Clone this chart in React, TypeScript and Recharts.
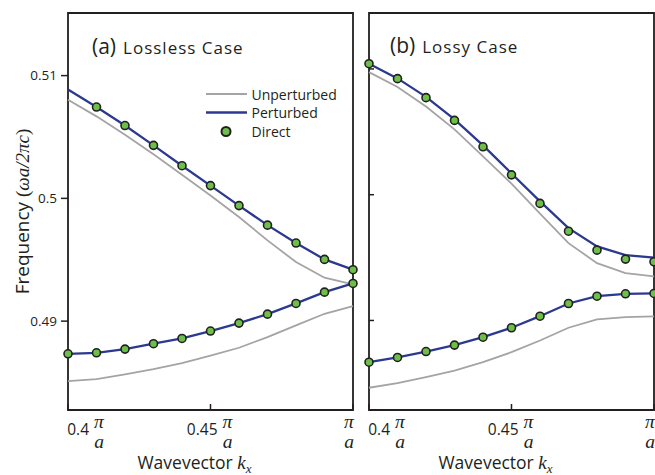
import React from "react";
import { ComposedChart, Line, XAxis, YAxis, ReferenceArea, Legend } from "recharts";

// wavevector samples (units of pi/a)
const kx = [0.4, 0.41, 0.42, 0.43, 0.44, 0.45, 0.46, 0.47, 0.48, 0.49, 0.5];

// (a) lossless case
const losslessUnpertUpper = [0.50804, 0.50668, 0.50519, 0.50359, 0.50193, 0.50024, 0.49848, 0.49658, 0.49481, 0.49354, 0.49299];
const losslessUnpertLower = [0.48511, 0.48527, 0.48566, 0.48609, 0.48658, 0.48718, 0.48783, 0.4887, 0.48965, 0.4906, 0.49122];
const losslessPertUpper = [0.50886, 0.50744, 0.50593, 0.50432, 0.50266, 0.50104, 0.49941, 0.49782, 0.49636, 0.49503, 0.49419];
const losslessPertLower = [0.48734, 0.48742, 0.48772, 0.48816, 0.48859, 0.48919, 0.48984, 0.49057, 0.49144, 0.49236, 0.49307];
const losslessDirectUpper = [null, 0.50744, 0.50593, 0.50432, 0.50266, 0.50104, 0.49941, 0.49782, 0.49636, 0.49503, 0.49419];
const losslessDirectLower = [0.48734, 0.48742, 0.48772, 0.48816, 0.48859, 0.48919, 0.48984, 0.49057, 0.49144, 0.49236, 0.49307];

// (b) lossy case
const lossyUnpertUpper = [0.50975, 0.50856, 0.50702, 0.5052, 0.50305, 0.50088, 0.49849, 0.49615, 0.49456, 0.49376, 0.4935];
const lossyUnpertLower = [0.48465, 0.48501, 0.48549, 0.48602, 0.48668, 0.48748, 0.48841, 0.48942, 0.49008, 0.49026, 0.49032];
const lossyPertUpper = [0.51042, 0.50925, 0.50778, 0.50599, 0.50392, 0.50169, 0.49947, 0.49734, 0.49589, 0.4952, 0.49499];
const lossyPertLower = [0.48668, 0.48706, 0.48753, 0.48804, 0.48867, 0.48942, 0.49034, 0.49135, 0.49193, 0.49212, 0.49215];
const lossyDirectUpper = [0.51042, 0.50923, 0.50772, 0.50591, 0.50381, 0.50158, 0.49931, 0.4971, 0.49559, 0.49488, 0.49467];
const lossyDirectLower = [0.48668, 0.48706, 0.48753, 0.48804, 0.48867, 0.48942, 0.49034, 0.49135, 0.49193, 0.49212, 0.49215];

const losslessDomain = [0.48276, 0.5151];
const lossyDomain = [0.48288, 0.51445];

const xTicks = [0.4, 0.45, 0.5];
const xTickCoefs = ["0.4", "0.45", ""];
const yTicks = [0.49, 0.5, 0.51];
const yTickLabels = ["0.49", "0.5", "0.51"];
const legendNames = ["Unperturbed", "Perturbed", "Direct"];

const BLUE = "#2b3990";
const GRAY = "#a4a4a4";
const GREEN = "#6cc04a";
const INK = "#231f20";
const SANS = '"Open Sans", sans-serif';
const MATH = '"Liberation Serif", serif';

const buildRows = (uu: any[], ul: any[], pu: any[], pl: any[], du: any[], dl: any[]) =>
  kx.map((k, i) => ({ k, uu: uu[i], ul: ul[i], pu: pu[i], pl: pl[i], du: du[i], dl: dl[i] }));

const losslessRows = buildRows(losslessUnpertUpper, losslessUnpertLower, losslessPertUpper, losslessPertLower, losslessDirectUpper, losslessDirectLower);
const lossyRows = buildRows(lossyUnpertUpper, lossyUnpertLower, lossyPertUpper, lossyPertLower, lossyDirectUpper, lossyDirectLower);

const KTick = (props: any) => {
  const { x, y, payload } = props;
  const idx = xTicks.indexOf(payload.value);
  const coef = xTickCoefs[idx] ?? "";
  const px = x + (idx === 0 ? 31 : idx === xTicks.length - 1 ? -4 : 17);
  return (
    <g>
      <line x1={x} x2={x} y1={y} y2={y - 6} stroke={INK} strokeWidth={1.5} />
      <text fill={INK}>
        {coef && (
          <tspan x={px - 10} y={y + 24.5} textAnchor="end" fontFamily={SANS} fontSize={15.5}>
            {coef}
          </tspan>
        )}
        <tspan x={px} y={y + 18} textAnchor="middle" fontFamily={MATH} fontStyle="italic" fontSize={19.5}>
          π
        </tspan>
        <tspan x={px} y={y + 37.5} textAnchor="middle" fontFamily={MATH} fontStyle="italic" fontSize={19.5}>
          a
        </tspan>
      </text>
    </g>
  );
};

const InnerYTick = (props: any) => {
  const { x, y } = props;
  return <line x1={x} x2={x + 5} y1={y} y2={y} stroke={INK} strokeWidth={1.5} />;
};

const FreqLabel = (props: any) => {
  const vb = props.viewBox || { x: 0, y: 13, width: 68, height: 397 };
  const cx = vb.x + 22;
  const cy = vb.y + vb.height / 2;
  return (
    <text
      transform={`translate(${cx},${cy}) rotate(-90)`}
      textAnchor="middle"
      dominantBaseline="central"
      fontFamily={SANS}
      fontSize={19}
      fill={INK}
    >
      Frequency{" "}
      <tspan fontFamily={MATH}>(</tspan>
      <tspan fontFamily={MATH} fontStyle="italic">ωa/2πc</tspan>
      <tspan fontFamily={MATH}>)</tspan>
    </text>
  );
};

const WaveLabel = (props: any) => {
  const vb = props.viewBox || { x: 68, y: 410, width: 285, height: 65 };
  const cx = vb.x + vb.width / 2 - 16;
  return (
    <text x={cx} y={vb.y + 59} textAnchor="middle" fontFamily={SANS} fontSize={17.5} fill={INK}>
      Wavevector{"  "}
      <tspan fontFamily={MATH} fontStyle="italic" fontSize={19}>k</tspan>
      <tspan fontFamily={MATH} fontStyle="italic" fontSize={13} dy={4}>x</tspan>
    </text>
  );
};

const LegendBox = () => (
  <svg width={150} height={60}>
    <line x1={6} x2={47} y1={10} y2={10} stroke={GRAY} strokeWidth={2.2} />
    <line x1={6} x2={47} y1={28.5} y2={28.5} stroke={BLUE} strokeWidth={2.6} />
    <circle cx={26} cy={47.5} r={4.5} fill={GREEN} stroke={INK} strokeWidth={2} />
    {legendNames.map((n, i) => (
      <text key={n} x={51.5} y={10 + i * 18.8} dominantBaseline="central" fontFamily={SANS} fontSize={14} fill={INK}>
        {n}
      </text>
    ))}
  </svg>
);

const dotStyle = { r: 4, fill: GREEN, stroke: INK, strokeWidth: 1.6 };

const Panel = ({ rows, domain, left }: { rows: any[]; domain: number[]; left: boolean }) => (
  <ComposedChart
    width={left ? 362 : 302}
    height={475}
    data={rows}
    margin={{ top: 13, right: left ? 9 : 8, bottom: 0, left: 0 }}
  >
    <XAxis
      dataKey="k"
      type="number"
      domain={[0.4, 0.5]}
      ticks={xTicks}
      interval={0}
      axisLine={false}
      tickLine={false}
      tickSize={0}
      tickMargin={0}
      height={65}
      tick={<KTick />}
      label={<WaveLabel />}
    />
    {left ? (
      <YAxis
        type="number"
        domain={domain}
        allowDataOverflow
        ticks={yTicks}
        interval={0}
        width={68}
        axisLine={false}
        tickSize={7}
        tickMargin={4}
        tickLine={{ stroke: INK, strokeWidth: 1.5 }}
        tickFormatter={(v: number) => yTickLabels[yTicks.indexOf(v)] ?? ""}
        tick={{ fill: INK, fontSize: 13.5, fontFamily: SANS }}
        label={<FreqLabel />}
      />
    ) : (
      <YAxis
        type="number"
        domain={domain}
        allowDataOverflow
        ticks={yTicks}
        interval={0}
        width={9}
        axisLine={false}
        tickLine={false}
        tickSize={0}
        tickMargin={0}
        tick={<InnerYTick />}
      />
    )}
    <ReferenceArea x1={0.4} x2={0.5} y1={domain[0]} y2={domain[1]} fill="none" stroke={INK} strokeWidth={1.8} ifOverflow="visible" />
    <Line dataKey="uu" type="linear" stroke={GRAY} strokeWidth={1.8} dot={false} activeDot={false} isAnimationActive={false} />
    <Line dataKey="ul" type="linear" stroke={GRAY} strokeWidth={1.8} dot={false} activeDot={false} isAnimationActive={false} />
    <Line dataKey="pu" type="linear" stroke={BLUE} strokeWidth={2.3} dot={false} activeDot={false} isAnimationActive={false} />
    <Line dataKey="pl" type="linear" stroke={BLUE} strokeWidth={2.3} dot={false} activeDot={false} isAnimationActive={false} />
    <Line dataKey="du" type="linear" stroke="none" dot={dotStyle} activeDot={false} isAnimationActive={false} />
    <Line dataKey="dl" type="linear" stroke="none" dot={dotStyle} activeDot={false} isAnimationActive={false} />
    {left && (
      <Legend
        layout="vertical"
        align="center"
        verticalAlign="middle"
        content={<LegendBox />}
        wrapperStyle={{ left: 200, top: 84, width: 150, height: 60 }}
      />
    )}
  </ComposedChart>
);

const Titles = () => (
  <svg width={655} height={475} style={{ position: "absolute", left: 0, top: 0, pointerEvents: "none" }}>
    <text x={92} y={54} fontFamily={SANS} fill={INK}>
      <tspan fontSize={21}>(a)</tspan>
      <tspan fontSize={17} dx={7} letterSpacing={1}>Lossless Case</tspan>
    </text>
    <text x={390} y={52.5} fontFamily={SANS} fill={INK}>
      <tspan fontSize={21}>(b)</tspan>
      <tspan fontSize={17} dx={7} letterSpacing={1}>Lossy Case</tspan>
    </text>
  </svg>
);

export default function App() {
  return (
    <div style={{ position: "absolute", left: 0, top: 0, width: 655, height: 475, overflow: "hidden", background: "#fff" }}>
      <div style={{ position: "absolute", left: 0, top: 0 }}>
        <Panel rows={losslessRows} domain={losslessDomain} left />
      </div>
      <div style={{ position: "absolute", left: 360, top: 0 }}>
        <Panel rows={lossyRows} domain={lossyDomain} left={false} />
      </div>
      <Titles />
    </div>
  );
}
